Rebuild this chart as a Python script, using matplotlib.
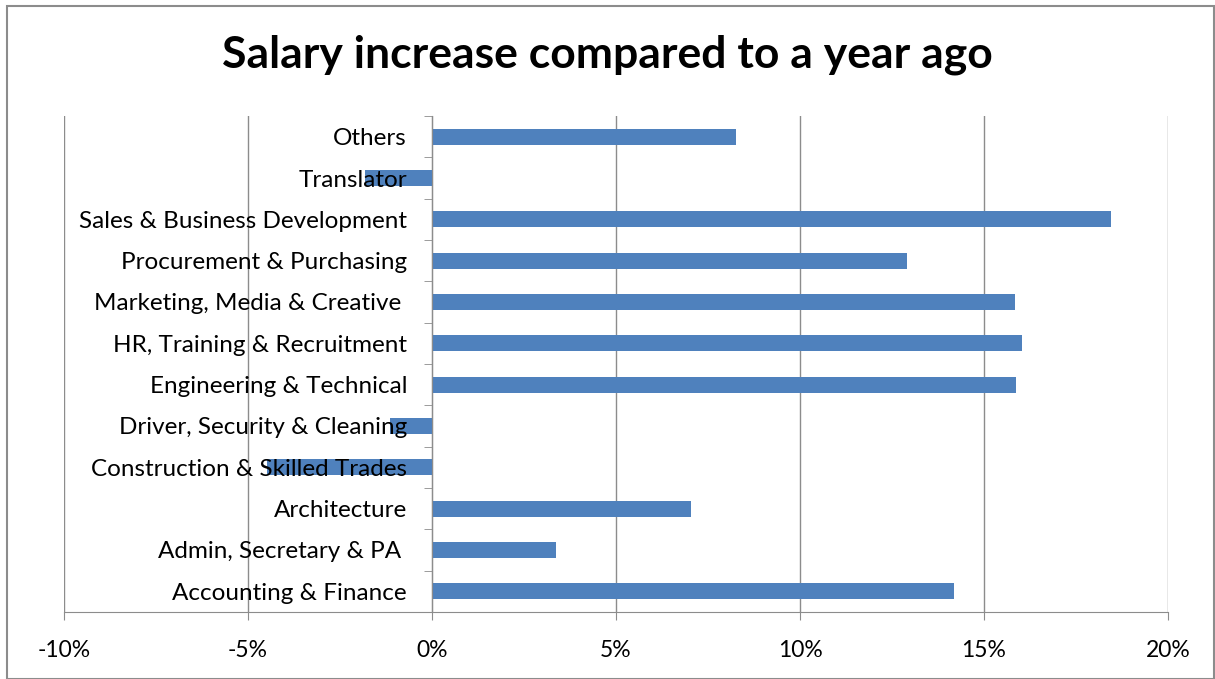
import numpy as np
import matplotlib.pyplot as plt
from matplotlib.patches import Rectangle
from matplotlib.ticker import FuncFormatter

categories = ['Accounting & Finance', 'Admin, Secretary & PA ', 'Architecture',
              'Construction & Skilled Trades', 'Driver, Security & Cleaning',
              'Engineering & Technical', 'HR, Training & Recruitment',
              'Marketing, Media & Creative ', 'Procurement & Purchasing',
              'Sales & Business Development', 'Translator', 'Others']
increase = [14.18, 3.37, 7.04, -4.48, -1.14, 15.87, 16.03, 15.84, 12.9, 18.45, -1.82, 8.26]

plt.rcParams['font.family'] = ['Lato', 'DejaVu Sans']

fig = plt.figure(figsize=(12.15, 6.79), dpi=100)
ax = fig.add_axes([64/1215, 1-612/679, 1104/1215, 496/679])

y = np.arange(len(categories))
ax.barh(y, increase, height=0.39, color='#4F81BD', zorder=3)

ax.set_xlim(-10, 20)
ax.set_ylim(-0.5, len(categories)-0.5)
ax.set_xticks(np.arange(-10, 21, 5))
ax.xaxis.set_major_formatter(FuncFormatter(lambda v, p: f'{v:.0f}%'))
ax.grid(axis='x', color='#8c8c8c', lw=1, zorder=0)

ax.set_yticks(y)
ax.set_yticklabels(categories)
ax.set_yticks(np.arange(-0.5, len(categories)), minor=True)
ax.tick_params(axis='y', which='major', length=0, pad=18, labelsize=17.5)
ax.tick_params(axis='y', which='minor', length=6, color='#8c8c8c', direction='out')
ax.tick_params(axis='x', length=6, color='#8c8c8c', labelsize=16.5, pad=14)
ax.yaxis.set_zorder(5)

for s in ['top', 'right']:
    ax.spines[s].set_visible(False)
ax.spines['left'].set_position(('data', 0))
ax.spines['left'].set_color('#8c8c8c')
ax.spines['left'].set_zorder(4)
ax.spines['bottom'].set_color('#8c8c8c')

fig.text(0.5, 1-55/679, 'Salary increase compared to a year ago', ha='center', va='center',
         fontsize=32, fontweight='bold')
fig.patches.append(Rectangle((7/1215, 0), 1-8/1215, 1-6/679, transform=fig.transFigure,
                             fill=False, edgecolor='#8c8c8c', lw=1.5))

plt.savefig('out.png')
